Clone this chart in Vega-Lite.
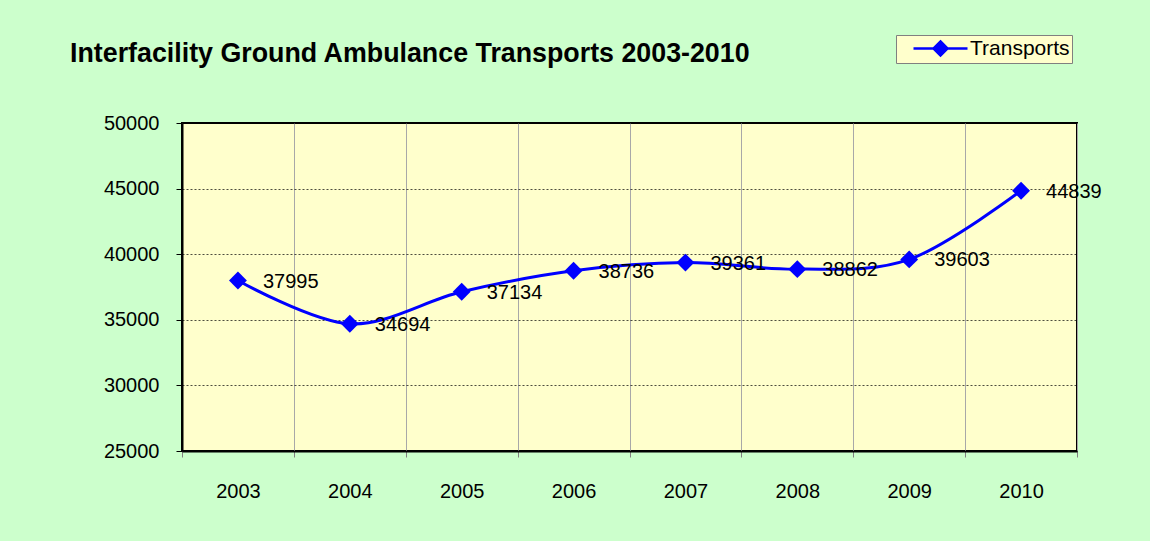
{
  "$schema": "https://vega.github.io/schema/vega-lite/v6.json",
  "width": 895,
  "height": 328,
  "autosize": {"type": "none"},
  "padding": {"left": 182, "top": 123, "right": 73, "bottom": 90},
  "background": "#CCFFCC",
  "title": {
    "text": "Interfacility Ground Ambulance Transports 2003-2010",
    "anchor": "start",
    "frame": "group",
    "dx": -112,
    "offset": -54,
    "baseline": "alphabetic",
    "fontSize": 26.8,
    "fontWeight": "bold",
    "color": "#000000",
    "font": "Liberation Sans"
  },
  "config": {
    "font": "Liberation Sans",
    "view": {"fill": "#FFFFCC", "stroke": "#000000", "strokeWidth": 2}
  },
  "data": {
    "values": [
      {"year": "2003", "transports": 37995, "series": "Transports"},
      {"year": "2004", "transports": 34694, "series": "Transports"},
      {"year": "2005", "transports": 37134, "series": "Transports"},
      {"year": "2006", "transports": 38736, "series": "Transports"},
      {"year": "2007", "transports": 39361, "series": "Transports"},
      {"year": "2008", "transports": 38862, "series": "Transports"},
      {"year": "2009", "transports": 39603, "series": "Transports"},
      {"year": "2010", "transports": 44839, "series": "Transports"}
    ]
  },
  "encoding": {
    "x": {
      "field": "year",
      "type": "ordinal",
      "scale": {"type": "band", "paddingInner": 0, "paddingOuter": 0},
      "axis": {
        "title": null,
        "labelAngle": 0,
        "tickBand": "extent",
        "grid": true,
        "gridColor": "#A8A8A8",
        "gridWidth": 1,
        "domainColor": "#000000",
        "domainWidth": 2,
        "tickColor": "#808080",
        "tickSize": 6,
        "labelFontSize": 20,
        "labelColor": "#000000",
        "labelPadding": 24
      }
    },
    "y": {
      "field": "transports",
      "type": "quantitative",
      "scale": {"domain": [25000, 50000], "nice": false, "zero": false},
      "axis": {
        "title": null,
        "values": [25000, 30000, 35000, 40000, 45000, 50000],
        "format": "d",
        "grid": true,
        "gridColor": "#000000",
        "gridDash": [2, 2],
        "gridWidth": 0.7,
        "domainColor": "#000000",
        "domainWidth": 2,
        "tickColor": "#000000",
        "tickSize": 6,
        "labelFontSize": 20,
        "labelColor": "#000000",
        "labelPadding": 17
      }
    }
  },
  "layer": [
    {
      "mark": {"type": "line", "interpolate": "cardinal", "strokeWidth": 3},
      "encoding": {
        "color": {
          "field": "series",
          "type": "nominal",
          "scale": {"range": ["#0000FF"]},
          "legend": {
            "title": null,
            "orient": "none",
            "legendX": 714,
            "legendY": -88,
            "fillColor": "#FFFFCC",
            "strokeColor": "#808080",
            "padding": 2,
            "cornerRadius": 0,
            "symbolType": "M-2.7,0H2.7M0,-0.7L0.7,0L0,0.7L-0.7,0Z",
            "symbolSize": 400,
            "symbolOffset": 31,
            "labelOffset": 18,
            "labelFontSize": 21,
            "labelColor": "#000000",
            "encode": {
              "symbols": {
                "update": {
                  "fill": {"value": "#0000FF"},
                  "stroke": {"value": "#0000FF"},
                  "strokeWidth": {"value": 2.5},
                  "opacity": {"value": 1}
                }
              }
            }
          }
        }
      }
    },
    {
      "mark": {"type": "point", "shape": "diamond", "filled": true, "size": 320, "color": "#0000FF", "opacity": 1}
    },
    {
      "mark": {"type": "text", "align": "left", "dx": 25, "dy": 1, "fontSize": 20, "color": "#000000"},
      "encoding": {"text": {"field": "transports", "type": "quantitative", "format": "d"}}
    }
  ]
}
